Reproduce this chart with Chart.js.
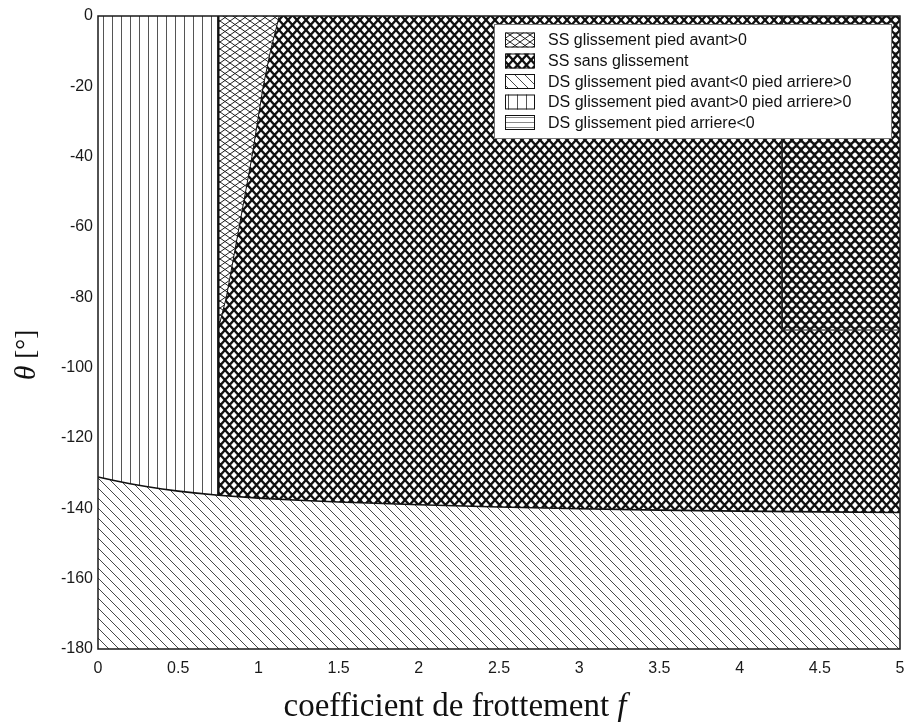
<!DOCTYPE html>
<html><head><meta charset="utf-8">
<script src="https://cdn.jsdelivr.net/npm/chart.js@4/dist/chart.umd.min.js"></script>
<style>html,body{margin:0;padding:0;background:#fff}canvas{display:block}</style>
</head><body>
<div style="width:906px;height:722px"><canvas id="c" width="906" height="722"></canvas></div>
<script>
// ---------- data ----------
const regionLabels = [
  "SS glissement pied avant>0",
  "SS sans glissement",
  "DS glissement pied avant<0 pied arriere>0",
  "DS glissement pied avant>0 pied arriere>0",
  "DS glissement pied arriere<0"
];
const xTickValues = [0,0.5,1,1.5,2,2.5,3,3.5,4,4.5,5];
const yTickValues = [0,-20,-40,-60,-80,-100,-120,-140,-160,-180];
const xTitleText = "coefficient de frottement ";
const xTitleVar = "f";
const yTitleVar = "\u03B8";
const yTitleUnit = " [\u00B0]";

// DS / SS boundary (theta vs f)
const boundaryF     = [0, 0.05, 0.1, 0.2, 0.3, 0.4, 0.5, 0.6, 0.75, 1, 1.25, 1.5, 2, 2.5, 3, 3.5, 4, 4.5, 5];
const boundaryTheta = [-131.1,-131.6,-132.1,-133,-133.8,-134.5,-135.1,-135.6,-136.3,-137.1,-137.7,-138.2,-139,-139.6,-140.1,-140.5,-140.8,-141,-141.2];
// front foot slip limit in single support
const slipLimitF     = [0.75, 0.8, 0.84, 0.88, 0.92, 0.96, 0.995, 1.03, 1.075, 1.13];
const slipLimitTheta = [-89, -80, -70, -60, -50, -40, -30, -20, -10, 0];
// front foot limit in double support
const dsFrontF = 0.75;
// rear foot slip (<0) rectangle
const rearSlipF = [4.265, 5];
const rearSlipTheta = [0, -89.3];

// ---------- patterns ----------
function makePattern(w, h, bg, draw) {
  const c = document.createElement('canvas');
  c.width = w; c.height = h;
  const g = c.getContext('2d');
  if (bg) { g.fillStyle = bg; g.fillRect(0, 0, w, h); }
  draw(g, w, h);
  return g.createPattern(c, 'repeat');
}
function crossDraw(color, lw) {
  return (g, w, h) => {
    g.strokeStyle = color; g.lineWidth = lw;
    for (let dx = -w; dx <= w; dx += w) for (let dy = -h; dy <= h; dy += h) {
      g.beginPath();
      g.moveTo(dx, dy); g.lineTo(dx + w, dy + h);
      g.moveTo(dx + w, dy); g.lineTo(dx, dy + h);
      g.stroke();
    }
  };
}
const patLight = makePattern(10, 7, '#fff', crossDraw('#222', 1));
const patDense = makePattern(9, 10, null, crossDraw('#111', 2.3));
const patDiag = makePattern(10, 10, null, (g, w, h) => {
  g.strokeStyle = '#333'; g.lineWidth = 0.9;
  for (let dx = -w; dx <= w; dx += w) {
    g.beginPath(); g.moveTo(dx, 0); g.lineTo(dx + w, h); g.stroke();
  }
});
const patVert = makePattern(9, 4, null, (g, w, h) => {
  g.fillStyle = '#555'; g.fillRect(4, 0, 1, h);
});
const patHoriz = makePattern(4, 5, null, (g, w, h) => {
  g.fillStyle = '#888'; g.fillRect(0, 2, w, 1);
});

// ---------- build series ----------
const pts = (xs, ys) => xs.map((x, i) => ({x, y: ys[i]}));
const allBoundary = pts(boundaryF, boundaryTheta);
const leftBoundary = allBoundary.filter(p => p.x <= dsFrontF);
const rightBoundary = allBoundary.filter(p => p.x >= dsFrontF);
const slipLimit = pts(slipLimitF, slipLimitTheta);
const rearRect = [
  {x: rearSlipF[0], y: rearSlipTheta[0]},
  {x: rearSlipF[0], y: rearSlipTheta[1]},
  {x: rearSlipF[1], y: rearSlipTheta[1]}
];
const dsFrontLine = [{x: dsFrontF, y: 0}, {x: dsFrontF, y: boundaryTheta[boundaryF.indexOf(dsFrontF)]}];

const base = {pointRadius: 0, tension: 0, borderWidth: 0, borderColor: 'rgba(0,0,0,0)'};
const datasets = [
  {...base, label: regionLabels[0], data: slipLimit, fill: 'end', backgroundColor: patLight, order: 1},
  {...base, label: regionLabels[1], data: rightBoundary, fill: 'end', backgroundColor: patDense, order: 2},
  {...base, label: regionLabels[2], data: allBoundary, fill: 'start', backgroundColor: patDiag, order: 5},
  {...base, label: regionLabels[3], data: leftBoundary, fill: 'end', backgroundColor: patVert, order: 4},
  {...base, label: regionLabels[4], data: rearRect, fill: 'end', backgroundColor: patHoriz, order: 3},
  // borders
  {...base, label: '_b1', data: allBoundary, fill: false, borderWidth: 1.6, borderColor: '#111', order: 0},
  {...base, label: '_b2', data: slipLimit, fill: false, borderWidth: 1, borderColor: '#111', order: 0},
  {...base, label: '_b3', data: dsFrontLine, fill: false, borderWidth: 2.4, borderColor: '#111', order: 0},
  {...base, label: '_b4', data: rearRect, fill: false, borderWidth: 1, borderColor: '#222', order: 0}
];

const tickFont = {family: "'Liberation Sans', Arial, sans-serif", size: 16};
const serif = "'Liberation Serif', 'Times New Roman', serif";
const TS = 33;

const framePlugin = {
  id: 'frame',
  afterDatasetsDraw(chart) {
    const {ctx, chartArea: a} = chart;
    ctx.save();
    ctx.strokeStyle = '#1a1a1a'; ctx.lineWidth = 1.5;
    ctx.strokeRect(a.left, a.top, a.right - a.left, a.bottom - a.top);
    ctx.restore();
  },
  afterDraw(chart) {
    const {ctx} = chart;
    // legend
    ctx.save();
    const bx = 494, by = 24, bw = 397, bh = 114;
    ctx.fillStyle = '#fff'; ctx.fillRect(bx, by, bw, bh);
    ctx.strokeStyle = '#777'; ctx.lineWidth = 1;
    ctx.strokeRect(bx + 0.5, by + 0.5, bw, bh);
    const rowY = [40, 61, 81.5, 102, 122.5];
    for (let i = 0; i < 5; i++) {
      const y = rowY[i];
      ctx.fillStyle = '#fff'; ctx.fillRect(505, y - 7.5, 30, 15);
      ctx.fillStyle = datasets[i].backgroundColor;
      ctx.fillRect(505, y - 7.5, 30, 15);
      ctx.strokeStyle = '#111'; ctx.lineWidth = 1;
      ctx.strokeRect(505.5, y - 7, 29, 14);
      ctx.fillStyle = '#111';
      ctx.font = "16px 'Liberation Sans', Arial, sans-serif";
      ctx.textBaseline = 'middle'; ctx.textAlign = 'left';
      ctx.fillText(regionLabels[i], 548, y + 1);
    }
    // x title
    ctx.textBaseline = 'middle';
    ctx.font = TS + "px " + serif;
    const w1 = ctx.measureText(xTitleText).width;
    ctx.font = "italic " + TS + "px " + serif;
    const w2 = ctx.measureText(xTitleVar).width;
    let x0 = 455 - (w1 + w2) / 2;
    ctx.font = TS + "px " + serif; ctx.textAlign = 'left';
    ctx.fillText(xTitleText, x0, 707);
    ctx.font = "italic " + TS + "px " + serif;
    ctx.fillText(xTitleVar, x0 + w1, 707);
    // y title
    ctx.translate(27, 355);
    ctx.rotate(-Math.PI / 2);
    ctx.font = "italic 30px " + serif;
    const t1 = ctx.measureText(yTitleVar).width;
    ctx.font = "27px " + serif;
    const t2 = ctx.measureText(yTitleUnit).width;
    let s = -(t1 + t2) / 2;
    ctx.font = "italic 30px " + serif;
    ctx.fillText(yTitleVar, s, 0);
    ctx.font = "27px " + serif;
    ctx.fillText(yTitleUnit, s + t1, 0);
    ctx.restore();
  }
};

new Chart(document.getElementById('c'), {
  type: 'line',
  data: {datasets},
  options: {
    responsive: false, animation: false, parsing: true,
    layout: {padding: {left: 0, right: 6, top: 16, bottom: 0}},
    plugins: {legend: {display: false}, tooltip: {enabled: false}},
    elements: {line: {tension: 0}},
    scales: {
      x: {
        type: 'linear', min: 0, max: 5,
        afterBuildTicks: s => { s.ticks = xTickValues.map(v => ({value: v})); },
        afterFit: s => { s.height = 73; s.paddingRight = 0; s.paddingLeft = 0; },
        grid: {display: false, drawTicks: false},
        border: {display: false},
        ticks: {font: tickFont, color: '#1a1a1a', padding: 10, maxRotation: 0, autoSkip: false,
                callback: v => String(v)}
      },
      y: {
        type: 'linear', min: -180, max: 0,
        afterBuildTicks: s => { s.ticks = yTickValues.map(v => ({value: v})); },
        afterFit: s => { s.width = 98; s.paddingTop = 0; s.paddingBottom = 0; },
        grid: {display: false, drawTicks: false},
        border: {display: false},
        ticks: {font: tickFont, color: '#1a1a1a', padding: 5, autoSkip: false,
                callback: v => String(v)}
      }
    }
  },
  plugins: [framePlugin]
});
</script>
</body></html>
